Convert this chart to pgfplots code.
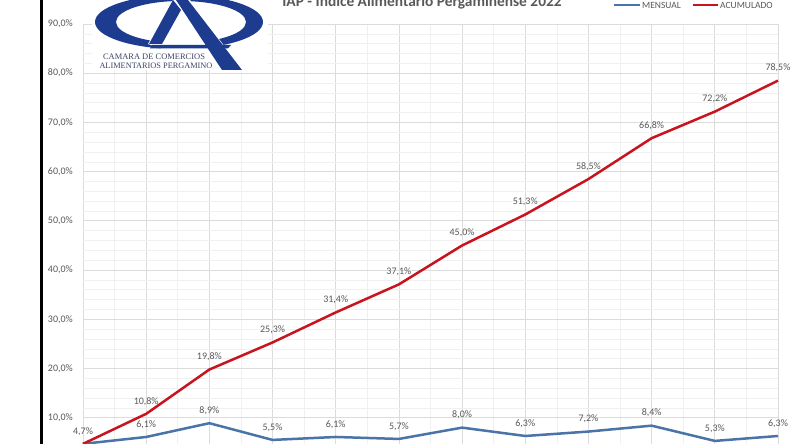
\documentclass[border=0pt]{standalone}
\usepackage{pgfplots}
\usepackage{pgfplotstable}
\pgfplotsset{compat=1.18}
\usepackage{fontspec}
\setmainfont{Carlito}
\newfontfamily\logofont{Liberation Serif}

\definecolor{mensual}{HTML}{4A74A8}
\definecolor{acumulado}{HTML}{C8141E}
\definecolor{txtgray}{HTML}{595959}
\definecolor{gridmaj}{HTML}{DCDCDC}
\definecolor{gridmin}{HTML}{F0F0F0}
\definecolor{capblue}{HTML}{1D3C8F}
\definecolor{capgray}{HTML}{3D4466}

% IAP 2022: monthly and cumulative variation (%)
\pgfplotstableread{
mes mensual acumulado
0   4.7     4.7
1   6.1     10.8
2   8.9     19.8
3   5.5     25.3
4   6.1     31.4
5   5.7     37.1
6   8.0     45.0
7   6.3     51.3
8   7.2     58.5
9   8.4     66.8
10  5.3     72.2
11  6.3     78.5
}\iapdata

\pgfplotsset{
  pctlabels/.style={
    nodes near coords={\pgfmathprintnumber[fixed,fixed zerofill,precision=1,use comma,assume math mode=true]{\pgfplotspointmeta}\%},
    every node near coord/.append style={font=\fontsize{10}{12}\selectfont, text=txtgray, anchor=center, yshift=12.5pt},
  },
}

\begin{document}
\begin{tikzpicture}[x=1pt,y=1pt]
\useasboundingbox (0,0) rectangle (790,444);
\clip (0,0) rectangle (790,444);
\fill[white] (0,0) rectangle (790,444);

\begin{axis}[
  at={(83pt,-23pt)}, anchor=origin,
  scale only axis, width=695pt, height=443pt,
  xmin=0, xmax=11, ymin=0, ymax=90,
  axis line style={draw=none},
  xtick={0,...,11}, xticklabels={}, minor x tick num=1,
  ytick={10,20,...,90}, minor y tick num=4,
  major tick length=0pt, minor tick length=0pt,
  grid=both,
  major grid style={gridmaj, line width=0.8pt},
  minor grid style={gridmin, line width=0.6pt},
  yticklabel={\pgfmathprintnumber[fixed,fixed zerofill,precision=1,use comma,assume math mode=true]{\tick}\%},
  yticklabel style={font=\fontsize{10}{12}\selectfont, text=txtgray, anchor=east, inner sep=0pt, xshift=-10pt},
  clip=false,
]
% monthly line; its labels from February on (January shares the 4,7% label)
\addplot[mensual, line width=2.5pt, mark=none] table[x=mes, y=mensual]{\iapdata};
\addplot[draw=none, mark=none, pctlabels, skip coords between index={0}{1}] table[x=mes, y=mensual]{\iapdata};
% cumulative line
\addplot[acumulado, line width=2.5pt, mark=none, pctlabels] table[x=mes, y=acumulado]{\iapdata};
\end{axis}

% left frame line
\fill[black] (40,0) rectangle (42.5,444);

% logo of the Camara de Comercios Alimentarios Pergamino
\fill[white] (92,374) rectangle (268,444);
\fill[capblue, even odd rule]
  (179,422) ellipse [x radius=84, y radius=27]
  (181,422) ellipse [x radius=65, y radius=21];
\fill[white] (173,444) -- (148,400) -- (222,374) -- (242,374) -- (190,444) -- cycle;
\fill[capblue] (173,444) -- (149,400) -- (162,400) -- (181,434) -- cycle;
\fill[capblue] (176,444) -- (188,444) -- (242,374) -- (222,374) -- cycle;
\fill[capblue] (150,395.5) -- (228,395.5) -- (231,399) -- (152,399) -- cycle;
\node[text=capgray, inner sep=0pt] at (154,387) {\resizebox{102pt}{!}{\logofont CAMARA DE COMERCIOS}};
\node[text=capgray, inner sep=0pt] at (156,378) {\resizebox{113pt}{!}{\logofont ALIMENTARIOS PERGAMINO}};

% title
\node[anchor=base, inner sep=0pt, text=txtgray, font=\fontsize{15.4}{17}\selectfont\bfseries]
  at (422,437) {IAP - Índice Alimentario Pergaminense 2022};

% legend
\draw[mensual, line width=2.5pt] (614,439) -- (640,439);
\node[anchor=west, inner sep=0pt, text=txtgray, font=\fontsize{9.5}{11}\selectfont] at (642,439) {MENSUAL};
\draw[acumulado, line width=2.5pt] (693,439) -- (718,439);
\node[anchor=west, inner sep=0pt, text=txtgray, font=\fontsize{9.5}{11}\selectfont] at (720,439) {ACUMULADO};
\end{tikzpicture}
\end{document}
